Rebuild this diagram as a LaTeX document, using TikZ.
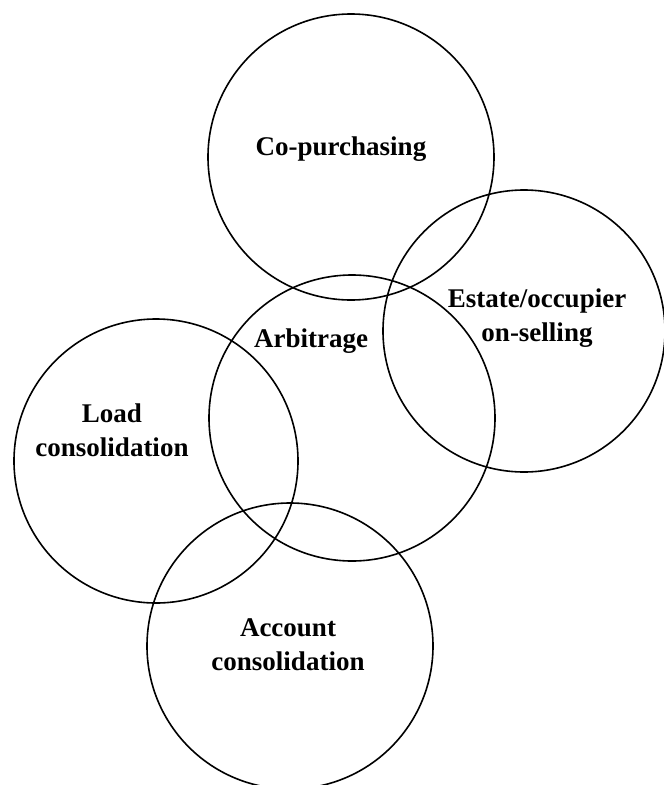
\documentclass[tikz,border=0pt]{standalone}
\usepackage{fontspec}
\setmainfont{Liberation Serif}
\begin{document}
\begin{tikzpicture}[x=1pt,y=-1pt,
  ring/.style={circle,draw=black,line width=1.6pt,inner sep=0pt,minimum size=#1},
  lbl/.style={font=\fontsize{27}{34}\selectfont\bfseries,align=center,inner sep=0pt}]
  \clip (0,0) rectangle (664,785);
  % five overlapping circles
  \node[ring=286pt] (copurch) at (351,157) {};
  \node[ring=282pt] (estate)  at (524,331) {};
  \node[ring=286pt] (arbit)   at (352,418) {};
  \node[ring=284pt] (load)    at (156,461) {};
  \node[ring=286pt] (account) at (290,646) {};
  % labels
  \node[lbl] (tcopurch) at (341,148.7) {Co-purchasing};
  \node[lbl] (testate)  at (537,317.7) {Estate/occupier\\on-selling};
  \node[lbl] (tarbit)   at (311,341.6) {Arbitrage};
  \node[lbl] (tload)    at (112,430)   {Load\\consolidation};
  \node[lbl] (taccount) at (288,645)   {Account\\consolidation};
\end{tikzpicture}
\end{document}
